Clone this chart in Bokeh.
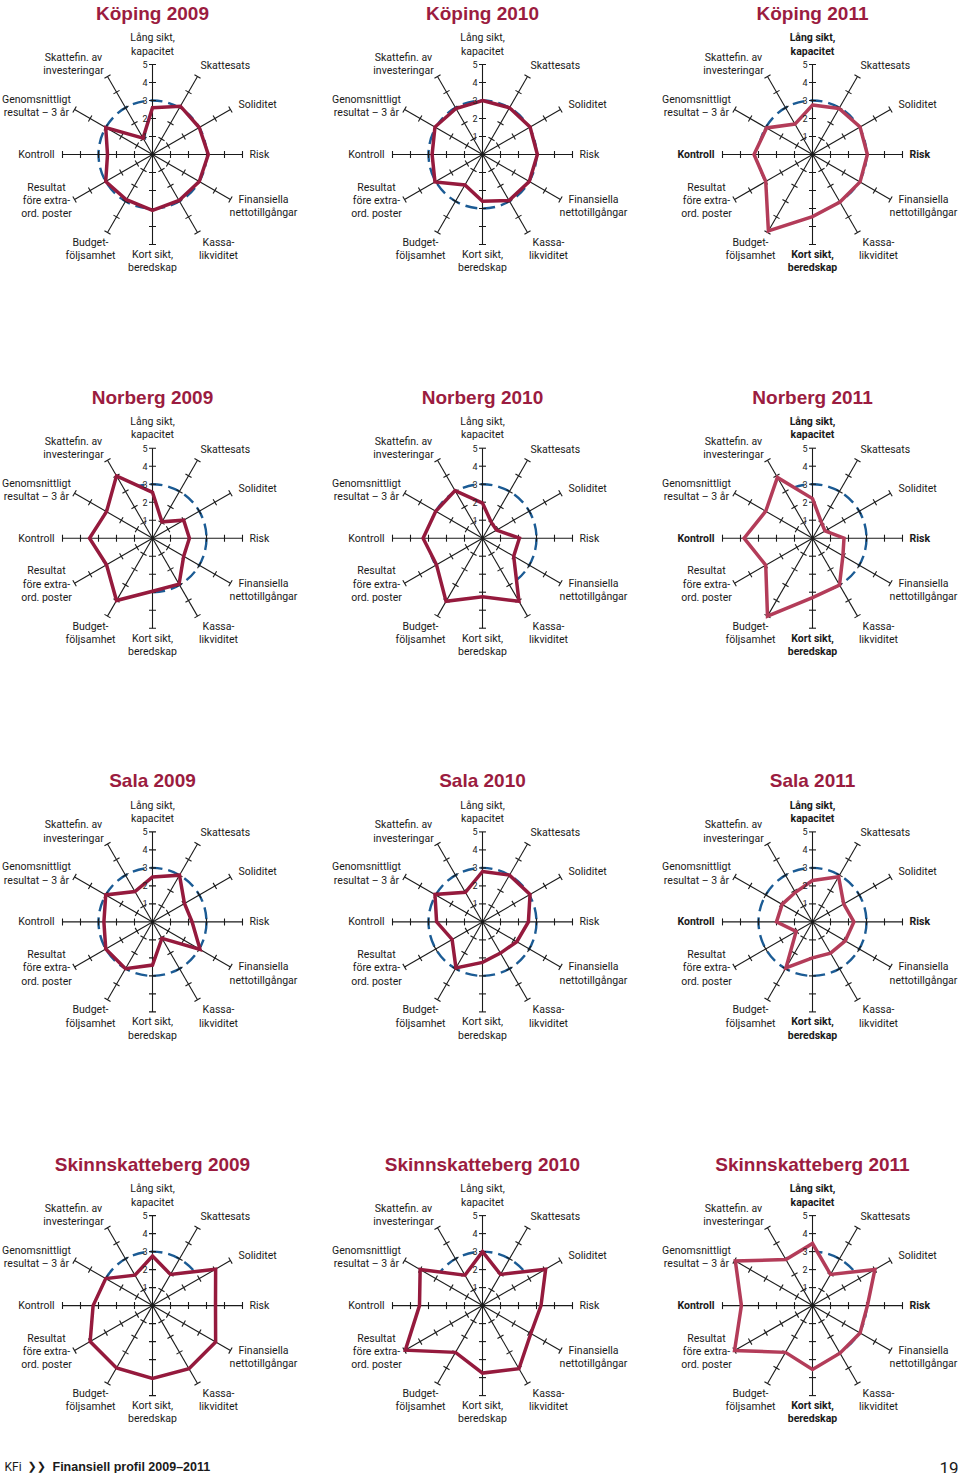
import math
from bokeh.plotting import figure
from bokeh.models import Range1d
from bokeh.core.properties import value
from bokeh.embed import file_html
from bokeh.resources import INLINE

# ---------------- data ----------------
categories = [
    "Lång sikt,\nkapacitet", "Skattesats", "Soliditet", "Risk",
    "Finansiella\nnettotillgångar", "Kassa-\nlikviditet", "Kort sikt,\nberedskap",
    "Budget-\nföljsamhet", "Resultat\nföre extra-\nord. poster", "Kontroll",
    "Genomsnittligt\nresultat – 3 år", "Skattefin. av\ninvesteringar",
]
municipalities = ["Köping", "Norberg", "Sala", "Skinnskatteberg"]
years = ["2009", "2010", "2011"]
tick_labels = ["1", "2", "3", "4", "5"]
reference_level = 3

koping_2009 = [2.6, 3.1, 3.0, 3.1, 3.0, 2.95, 3.1, 2.9, 3.0, 2.5, 3.0, 1.05]
koping_2010 = [3.0, 3.0, 3.05, 3.05, 3.0, 2.95, 2.6, 1.95, 3.05, 2.8, 3.05, 2.95]
koping_2011 = [2.75, 2.95, 3.05, 3.05, 3.05, 3.05, 3.45, 4.9, 3.0, 3.25, 2.95, 1.95]
norberg_2009 = [2.55, 1.05, 2.0, 2.05, 2.0, 2.95, 2.95, 4.0, 2.95, 3.5, 2.95, 4.0]
norberg_2010 = [1.95, 1.0, 0.9, 2.05, 2.0, 4.05, 3.25, 4.05, 2.95, 3.3, 3.0, 3.05]
norberg_2011 = [2.2, 1.0, 0.8, 1.75, 1.95, 3.0, 3.3, 5.0, 3.0, 3.8, 3.0, 3.9]
sala_2009 = [2.5, 3.0, 2.05, 2.2, 3.05, 1.05, 2.4, 3.0, 3.0, 2.7, 3.0, 1.95]
sala_2010 = [2.8, 3.0, 3.05, 2.55, 2.2, 2.0, 2.25, 2.95, 1.95, 2.55, 3.05, 1.9]
sala_2011 = [2.3, 2.9, 2.0, 2.3, 2.1, 2.0, 2.0, 2.95, 1.05, 2.0, 1.95, 1.9]
skinnskatteberg_2009 = [2.75, 2.0, 4.05, 3.5, 4.05, 4.05, 4.05, 4.0, 4.0, 3.3, 3.0, 1.95]
skinnskatteberg_2010 = [3.0, 2.0, 4.05, 3.25, 3.1, 4.05, 3.75, 3.0, 4.95, 3.5, 4.0, 1.95]
skinnskatteberg_2011 = [3.45, 2.0, 4.0, 3.05, 3.05, 3.05, 3.55, 3.0, 5.0, 3.95, 4.95, 2.95]

series = [
    [koping_2009, koping_2010, koping_2011],
    [norberg_2009, norberg_2010, norberg_2011],
    [sala_2009, sala_2010, sala_2011],
    [skinnskatteberg_2009, skinnskatteberg_2010, skinnskatteberg_2011],
]

footer_left = "KFi"
footer_title = "Finansiell profil 2009–2011"
page_number = "19"

# ---------------- styling / layout ----------------
W, H = 960, 1473
UNIT = 18.0
MAXV = 5
COL_X = [152, 482, 812]
ROW_Y0, ROW_DY = 154, 383.7
TITLE_COLOR = "#9b1c40"
LINE_COLORS = ["#951a3d", "#951a3d", "#b33c59"]
BLUE = "#1b5b94"
LABEL_FONT = "Roboto"
TITLE_FONT = "Liberation Sans"
LABEL_SIZE = "10.5px"

# label offsets (dx, dy, align) relative to chart centre; y grows downward
label_pos = [
    (0, -110, "center"), (48, -89, "left"), (86, -50, "left"), (97, 0, "left"),
    (111, 51.5, "center"), (66, 94.5, "center"), (0, 106.5, "center"),
    (-62, 94.5, "center"), (-106, 46, "center"), (-98, 0, "right"),
    (-116, -48.5, "center"), (-79, -90.5, "center"),
]
bold_2011 = {0, 3, 6, 9}

p = figure(width=W, height=H, x_range=Range1d(0, W), y_range=Range1d(H, 0),
           output_backend="svg", toolbar_location=None, min_border=0,
           x_axis_location=None, y_axis_location=None)
p.grid.visible = False
p.outline_line_color = None
p.background_fill_color = "white"

n = len(categories)
angles = [math.radians(90 - 30 * k) for k in range(n)]


def pt(cx, cy, r, th):
    return cx + r * UNIT * math.cos(th), cy - r * UNIT * math.sin(th)


for ri, muni in enumerate(municipalities):
    cy = ROW_Y0 + ri * ROW_DY
    for ci, yr in enumerate(years):
        cx = COL_X[ci]
        vals = series[ri][ci]
        poly = [pt(cx, cy, v, th) for v, th in zip(vals, angles)]
        xs = [q[0] for q in poly]
        ys = [q[1] for q in poly]

        # dashed reference circle
        p.circle(x=[cx], y=[cy], radius=reference_level * UNIT, fill_color=None,
                 line_color=BLUE, line_width=2.4, line_dash="12 6")
        # white fill hides the circle inside the profile
        p.patch(xs, ys, fill_color="white", line_color=None)

        # axes with tick marks
        x0s, y0s, x1s, y1s = [], [], [], []
        for th in angles:
            ex, ey = pt(cx, cy, MAXV, th)
            x0s.append(cx); y0s.append(cy); x1s.append(ex); y1s.append(ey)
            for t in range(1, MAXV + 1):
                tx, ty = pt(cx, cy, t, th)
                h = 3.5
                x0s.append(tx - h * math.sin(th)); y0s.append(ty - h * math.cos(th))
                x1s.append(tx + h * math.sin(th)); y1s.append(ty + h * math.cos(th))
        p.segment(x0=x0s, y0=y0s, x1=x1s, y1=y1s, line_color="#1a1a1a", line_width=1.1)

        # profile outline
        p.patch(xs, ys, fill_color=None, line_color=LINE_COLORS[ci], line_width=3.5,
                line_join="miter")

        # tick labels on the top axis
        p.text(x=[cx - 5] * MAXV, y=[cy - (i + 1) * UNIT for i in range(MAXV)],
               text=tick_labels, text_align="right", text_baseline="middle",
               text_font=value(LABEL_FONT), text_font_size="9px", text_color="#222222")

        # category labels
        for k, lab in enumerate(categories):
            dx, dy, al = label_pos[k]
            bold = (ci == 2 and k in bold_2011)
            p.text(x=[cx + dx], y=[cy + dy], text=[lab], text_align=al,
                   text_baseline="middle", text_font=value(LABEL_FONT),
                   text_font_size=LABEL_SIZE, text_line_height=1.03,
                   text_font_style="bold" if bold else "normal", text_color="#1a1a1a")

        # title
        p.text(x=[cx], y=[cy - 141], text=[f"{muni} {yr}"], text_align="center",
               text_baseline="middle", text_font=value(TITLE_FONT), text_font_size="19px",
               text_font_style="bold", text_color=TITLE_COLOR)

# footer
p.text(x=[4], y=[1466], text=[footer_left], text_align="left", text_baseline="alphabetic",
       text_font=value(LABEL_FONT), text_font_size="12px", text_color="#1a1a1a")
p.text(x=[27], y=[1466], text=["❯❯"], text_align="left", text_baseline="alphabetic",
       text_font=value("DejaVu Sans"), text_font_size="11px", text_font_style="bold",
       text_color="#1a1a1a")
p.text(x=[52], y=[1466], text=[footer_title], text_align="left", text_baseline="alphabetic",
       text_font=value(TITLE_FONT), text_font_size="12.5px", text_font_style="bold",
       text_color="#1a1a1a")
p.text(x=[958], y=[1467], text=[page_number], text_align="right", text_baseline="alphabetic",
       text_font=value(LABEL_FONT), text_font_size="17px", text_color="#1a1a1a")

open("out.html", "w").write(file_html(p, INLINE))
